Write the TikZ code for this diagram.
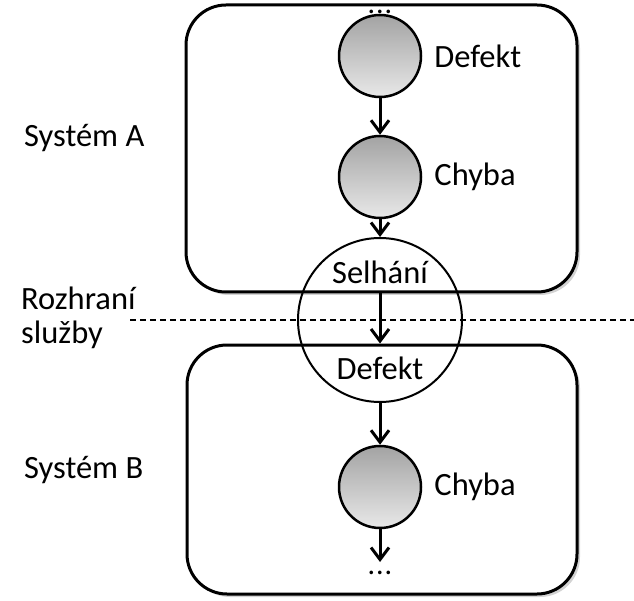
\documentclass[tikz,border=0pt]{standalone}
\usepackage{fontspec}
\setmainfont{Carlito}
\usetikzlibrary{arrows.meta,shadows,positioning}
\begin{document}
\begin{tikzpicture}[x=1pt,y=-1pt]
	\tikzstyle{every node}+=[inner sep=0pt, font=\fontsize{32.5}{38}\selectfont]
	\tikzstyle{sysbox}=[draw, line width=3pt, rounded corners=40pt, fill=white, drop shadow={shadow xshift=3pt,shadow yshift=-3pt,opacity=0.35}]
	\tikzstyle{fault}=[circle, draw, line width=2.5pt, minimum size=82pt, top color=gray!72, bottom color=gray!18]
	\tikzstyle{flow}=[line width=3pt, -{Straight Barb[length=12pt,width=18pt]}]
	\useasboundingbox (0,0) rectangle (634,601);
	% the two systems
	\node[sysbox, minimum width=391pt, minimum height=287pt] (sysA) at (381.5,148.5) {};
	\node[sysbox, minimum width=390pt, minimum height=249pt] (sysB) at (382,469.5) {};
	% service interface
	\coordinate (ifL) at (130,320);
	\coordinate (ifR) at (634,320);
	\draw[dash pattern=on 6pt off 4pt, line width=1.3pt] (ifL) -- (ifR);
	\node[anchor=west] (txtA) at (24,138) {Systém A};
	\node[anchor=west] (txtB) at (24,470) {Systém B};
	\node[anchor=west] (txtIf1) at (21,298) {Rozhraní};
	\node[anchor=west] (txtIf2) at (21,335) {služby};
	% fault chain
	\node[anchor=base, font=\fontsize{30}{34}\selectfont] (dotsA) at (380,14) {.\kern1pt.\kern1pt.};
	\node[fault] (defA) at (380,56) {};
	\node[right=12pt of defA] (defAl) {Defekt};
	\node[fault] (chyA) at (380,177) {};
	\node[right=12pt of chyA] (chyAl) {Chyba};
	\node[circle, draw, line width=2pt, minimum size=164pt] (fail) at (380,320) {};
	\node (failT) at (380,272) {Selhání};
	\node (failB) at (380,368) {Defekt};
	\node[fault] (chyB) at (380,487) {};
	\node[right=12pt of chyB] (chyBl) {Chyba};
	\coordinate (endB) at (380,562);
	\node[anchor=base, font=\fontsize{30}{34}\selectfont] (dotsB) at (380,574) {.\kern1pt.\kern1pt.};
	\draw[flow] (defA) -- (chyA);
	\draw[flow] (chyA) -- (fail);
	\draw[flow] (sysA.south -| fail.center) -- (sysB.north -| fail.center);
	\draw[flow] (fail) -- (chyB);
	\draw[flow] (chyB) -- (endB);
\end{tikzpicture}
\end{document}
